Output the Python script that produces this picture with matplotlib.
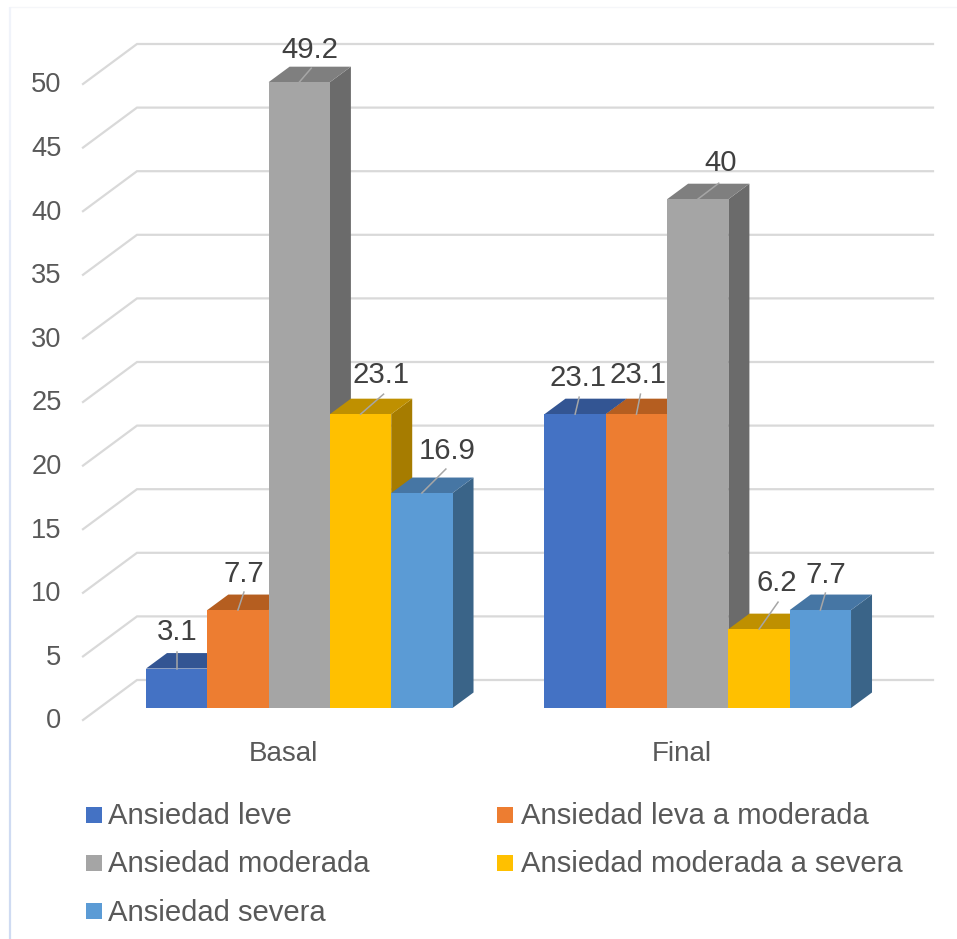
import matplotlib
matplotlib.use("Agg")
import matplotlib.pyplot as plt
from matplotlib.patches import Polygon, Rectangle

plt.rcParams['font.family'] = ['Liberation Sans', 'DejaVu Sans']

# datos
grupos = ["Basal", "Final"]
series = ["Ansiedad leve", "Ansiedad leva a moderada", "Ansiedad moderada",
          "Ansiedad moderada a severa", "Ansiedad severa"]
basal = [3.1, 7.7, 49.2, 23.1, 16.9]
final = [23.1, 23.1, 40, 6.2, 7.7]
ticks = [0, 5, 10, 15, 20, 25, 30, 35, 40, 45, 50]

# colores: frente, tapa, lado
frente = ["#4472C4", "#ED7D31", "#A5A5A5", "#FFC000", "#5B9BD5"]
tapa = ["#335593", "#B55E20", "#7F7F7F", "#BF9000", "#4676A4"]
lado = ["#2C4A80", "#9A5020", "#6B6B6B", "#A67C00", "#3A6488"]

W, H = 957, 939
PX_X = 398.5    # pixeles por categoria
PX_Y = 12.72    # pixeles por unidad del eje y
X0, Y0 = 299.25, 708   # centro de Basal y base de las barras

fig = plt.figure(figsize=(W / 100, H / 100), dpi=100)
ax = fig.add_axes([0, 0, 1, 1])
ax.set_xlim(-X0 / PX_X, (W - X0) / PX_X)
ax.set_ylim((Y0 - H) / PX_Y, Y0 / PX_Y)
ax.axis('off')


def px(x, y):
    return (x - X0) / PX_X, (Y0 - y) / PX_Y


# borde tenue arriba y a la izquierda, mas marcado hacia abajo
ax.plot(*zip(px(10, 7), px(957, 7)), color="#F5F6F9", lw=1)
tramos = [(7, 200, "#F0F3FA"), (200, 400, "#E4EAF7"), (400, 560, "#D8E1F4"),
          (560, 760, "#C6D4F0"), (760, 939, "#CFDBF2")]
for y1, y2, c in tramos:
    ax.plot(*zip(px(10, y1), px(10, y2)), color=c, lw=1.6, solid_capstyle='butt')

# paredes: lineas de cuadricula con su tramo en diagonal
gris = "#D9D9D9"
for t in ticks:
    a = px(83, 0)[0]
    b = px(137, 0)[0]
    c = px(933, 0)[0]
    y_front = t - 12 / PX_Y
    y_back = t + 28 / PX_Y
    ax.plot([a, b, c], [y_front, y_back, y_back], color=gris, lw=1.6, zorder=1,
            solid_joinstyle='miter')
    x_txt = px(61.5, 0)[0]
    ax.text(x_txt, y_front - 1.5 / PX_Y, str(t), ha='right', va='center', fontsize=19.6,
            color="#595959")

# barras con profundidad
ancho = 1 / 6.5
dx = 21 / PX_X
dy = 15.5 / PX_Y
centros = []
valores = []
z = 2
for g, vals in enumerate([basal, final]):
    for i, v in enumerate(vals):
        x = g + (i - 2) * ancho
        izq, der = x - ancho / 2, x + ancho / 2
        ax.add_patch(Polygon([(der, 0), (der + dx, dy), (der + dx, v + dy), (der, v)],
                             fc=lado[i], ec='none', zorder=z))
        ax.add_patch(Polygon([(izq, v), (der, v), (der + dx, v + dy), (izq + dx, v + dy)],
                             fc=tapa[i], ec='none', zorder=z))
        ax.bar(x, v, width=ancho, color=frente[i], zorder=z + 0.5)
        centros.append(x)
        valores.append(v)
        z += 1

# etiquetas de valor con linea guia (desplazamientos en pixeles)
guia = [(0, -17), (6, -18), (12, -14), (23, -20), (24, -24),
        (4, -17), (4, -20), (21, -16), (19, -27), (5, -17)]
texto = [(1, -37), (6, -36), (11, -32), (20, -39), (25, -42),
         (3, -36), (2, -39), (23, -36), (18, -46), (6, -35)]
for x, v, (gx, gy), (tx, ty) in zip(centros, valores, guia, texto):
    ax.plot([x, x + gx / PX_X], [v, v - gy / PX_Y], color="#A6A6A6", lw=1.1, zorder=50)
    etiqueta = f"{v:g}"
    ax.text(x + tx / PX_X, v - ty / PX_Y, etiqueta, ha='center', va='center',
            fontsize=21.2, color="#404040", zorder=51)

# categorias
for g, nombre in enumerate(grupos):
    ax.text(g - 16 / PX_X, px(0, 754)[1], nombre, ha='center', va='center',
            fontsize=20, color="#595959")

# leyenda, por filas
filas = [(86, 814.5), (497, 814.5), (86, 862.5), (497, 862.5), (86, 911)]
for nombre, color, (lx, ly) in zip(series, frente, filas):
    x0, y0 = px(lx, ly + 8)
    ax.add_patch(Rectangle((x0, y0), 16 / PX_X, 16 / PX_Y, fc=color, ec='none'))
    # segunda columna con texto un poco mas separado del cuadro
    sep = 22 if lx < 400 else 24
    ax.text(px(lx + sep, 0)[0], px(0, ly + 2)[1], nombre, ha='left', va='center',
            fontsize=21.1, color="#595959")

fig.savefig("out.png", dpi=100, facecolor="white")
